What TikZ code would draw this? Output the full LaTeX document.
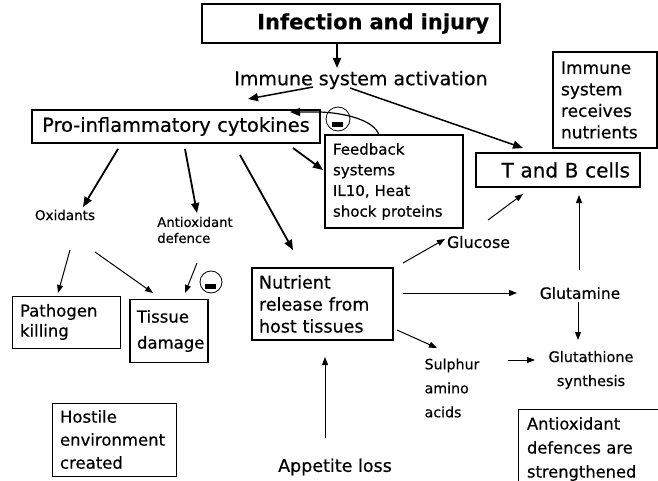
\documentclass[tikz,border=0pt]{standalone}
\usepackage{fontspec}
\setmainfont{DejaVu Sans}[FakeBold=0.5]
\usetikzlibrary{arrows.meta}
\newcommand\fsz[2]{\fontsize{#1}{#2}\selectfont}
\begin{document}
\begin{tikzpicture}[x=1pt,y=-1pt,
  box/.style={draw,line width=1.2pt,inner ysep=0pt,align=left},
  lbl/.style={inner sep=0pt,align=left},
  bigarrow/.style={draw,line width=1.8pt,-{Triangle[length=10pt,width=8pt]}},
  smallarrow/.style={draw,line width=1pt,-{Triangle[length=8pt,width=6pt]}},
  inhibit/.style={circle,draw,line width=0.8pt,inner sep=0pt}]
\useasboundingbox (0,0) rectangle (658,481);

% boxes and labels
\node[box,minimum width=298pt,minimum height=39pt,text width=276pt,inner xsep=11pt,align=right,font={\fsz{21}{25}\bfseries}] (inf) at (351,23.5) {Infection and injury};
\node[lbl,font={\fsz{19}{23}}] (act) at (361,80) {Immune system activation};
\node[box,line width=1.5pt,minimum width=288pt,minimum height=33pt,text width=280pt,inner xsep=4pt,align=center,font={\fsz{19.4}{23}}] (pro) at (176,126.5) {Pro-inflammatory cytokines};
\node[box,line width=2pt,minimum width=138pt,minimum height=93pt,text width=122pt,inner xsep=8pt,font={\fsz{15}{20.7}}] (fb) at (394,181.5) {Feedback\\systems\\IL10, Heat\\shock proteins};
\node[box,line width=1.5pt,minimum width=164pt,minimum height=34pt,text width=144pt,inner xsep=10pt,align=right,font={\fsz{20}{24}}] (tb) at (558,170) {T and B cells};
\node[box,minimum width=104pt,minimum height=96pt,text width=88pt,inner xsep=8pt,font={\fsz{17}{21.5}}] (isr) at (605,100) {Immune\\system\\receives\\nutrients};
\node[lbl,font={\fsz{13.5}{16}}] (ox) at (65,215) {Oxidants};
\node[lbl,font={\fsz{13.2}{16}}] (ad) at (195,230) {Antioxidant\\defence};
\node[box,line width=1pt,minimum width=108pt,minimum height=52pt,text width=92pt,inner xsep=8pt,font={\fsz{16.5}{20}}] (path) at (66,322) {Pathogen\\killing};
\node[box,minimum width=78pt,minimum height=63pt,text width=64pt,inner xsep=7pt,font={\fsz{16.5}{26}}] (tis) at (169,331) {Tissue\\damage};
\node[box,minimum width=141pt,minimum height=72pt,text width=127pt,inner xsep=7pt,font={\fsz{17.5}{22}}] (nut) at (322.5,304) {Nutrient\\release from\\host tissues};
\node[lbl,font={\fsz{15.8}{19}}] (glu) at (478.5,242) {Glucose};
\node[lbl,font={\fsz{15.5}{19}}] (gln) at (580,293) {Glutamine};
\node[lbl,align=center,font={\fsz{14.5}{24}}] (gsh) at (591,370) {Glutathione\\synthesis};
\node[lbl,font={\fsz{14.2}{24}}] (sul) at (452,388) {Sulphur\\amino\\acids};
\node[lbl,font={\fsz{17.5}{21}}] (app) at (335,467) {Appetite loss};
\node[box,line width=1pt,minimum width=124pt,minimum height=73pt,text width=108pt,inner xsep=8pt,font={\fsz{16.5}{23}}] (host) at (114,439.5) {Hostile\\environment\\created};
\node[box,line width=1pt,minimum width=150pt,minimum height=80pt,text width=132pt,inner xsep=9pt,font={\fsz{16.3}{24}}] (aox) at (593,449) {Antioxidant\\defences are\\strengthened};

% inhibition marks
\node[inhibit,minimum size=24pt] (m1) at (338,119) {};
\node[inhibit,minimum size=22pt] (m2) at (211,282) {};
\fill ([shift={(-6,3)}]m1.center) rectangle ([shift={(5,8)}]m1.center);
\fill ([shift={(-6,1.5)}]m2.center) rectangle ([shift={(5,7)}]m2.center);

% heavy arrows
\draw[bigarrow] ([shift={(-14,19.5)}]inf.center) -- ([shift={(-24,-12)}]act.center);
\draw[bigarrow,line width=1.5pt] ([shift={(-48,7)}]act.center) -- ([shift={(72,-27.5)}]pro.center);
\draw[bigarrow,line width=1.5pt] ([shift={(-11,8)}]act.center) -- ([shift={(-35,-22)}]tb.center);
\draw[bigarrow,line width=1.2pt] ([shift={(-15,-46.5)}]fb.center) .. controls +(-5,-15) and +(25,1) .. ([shift={(144,-14.5)}]pro.center) -- ([shift={(114,-14.5)}]pro.center);
\draw[bigarrow] ([shift={(117,21.5)}]pro.center) -- ([shift={(-71,-11.5)}]fb.center);
\draw[bigarrow] ([shift={(-58,22.5)}]pro.center) -- ([shift={(18,-8)}]ox.center);
\draw[bigarrow] ([shift={(9,22.5)}]pro.center) -- ([shift={(2,-17)}]ad.center);
\draw[bigarrow] ([shift={(64,28.5)}]pro.center) -- ([shift={(-29.5,-54)}]nut.center);

% light arrows
\draw[smallarrow] ([shift={(5,35)}]ox.center) -- ([shift={(-8,-29)}]path.center);
\draw[smallarrow] ([shift={(30,37)}]ox.center) -- ([shift={(-16,-38)}]tis.center);
\draw[smallarrow] ([shift={(2,33)}]ad.center) -- ([shift={(16,-38)}]tis.center);
\draw[smallarrow] ([shift={(80.5,-41)}]nut.center) -- ([shift={(-33.5,-3)}]glu.center);
\draw[smallarrow] ([shift={(9.5,-22)}]glu.center) -- ([shift={(-35,24)}]tb.center);
\draw[smallarrow] ([shift={(-1,-23)}]gln.center) -- ([shift={(21,25)}]tb.center);
\draw[smallarrow] ([shift={(80.5,-11)}]nut.center) -- ([shift={(-63,0)}]gln.center);
\draw[smallarrow] ([shift={(-2,9)}]gln.center) -- ([shift={(-13,-30)}]gsh.center);
\draw[smallarrow] ([shift={(74.5,26)}]nut.center) -- ([shift={(-15,-40)}]sul.center);
\draw[smallarrow] ([shift={(56,-28)}]sul.center) -- ([shift={(-56,-10)}]gsh.center);
\draw[smallarrow] ([shift={(-10,-29)}]app.center) -- ([shift={(2.5,53)}]nut.center);
\end{tikzpicture}
\end{document}
